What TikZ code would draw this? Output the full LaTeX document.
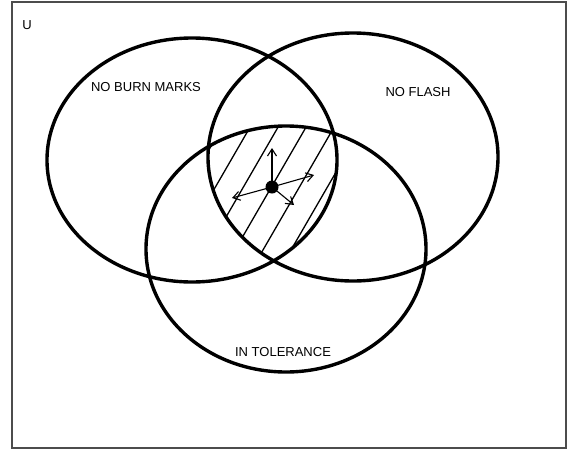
\documentclass[tikz,border=0pt]{standalone}
\usepackage{fontspec}
\setmainfont{Liberation Sans}
\usepackage{tikz}
\usetikzlibrary{arrows.meta,positioning}
\tikzset{
  setline/.style={line width=3.4pt,black},
  lbl/.style={font=\fontsize{13}{15}\selectfont,inner sep=0pt},
  hatch/.style={line width=1.3pt,black},
  arr/.style={-{Straight Barb[length=7pt,width=9pt]},line width=1.1pt},
}
\begin{document}
\begin{tikzpicture}[x=1pt,y=-1pt]
  \useasboundingbox (0,0) rectangle (569,450);
  \draw[black!70,line width=1.2pt] (12,2) rectangle (566,448);
  \node[lbl] (u) at (27,25) {U};
  % hatched common region
  \begin{scope}
    \clip (192,160) ellipse [x radius=145,y radius=122];
    \clip (353,157) ellipse [x radius=145,y radius=124];
    \clip (286,249) ellipse [x radius=140,y radius=123];
    \foreach \k in {-5,...,5}
      \draw[hatch] (272+28*\k-70,186+121) -- (272+28*\k+70,186-121);
  \end{scope}
  % the three sets
  \draw[setline] (192,160) ellipse [x radius=145,y radius=122];
  \draw[setline] (353,157) ellipse [x radius=145,y radius=124];
  \draw[setline] (286,249) ellipse [x radius=140,y radius=123];
  \node[lbl] (burn) at (146,87) {NO BURN MARKS};
  \node[lbl] (flash) at (418,92) {NO FLASH};
  \node[lbl] (tol) at (283,352) {IN TOLERANCE};
  % point with its moves
  \node[circle,fill=black,inner sep=0pt,minimum size=13pt] (pt) at (272,187) {};
  \coordinate (up) at (272,148);
  \coordinate (lf) at (232,198);
  \coordinate (rt) at (314,175);
  \coordinate (dr) at (294,205);
  \foreach \t in {up,lf,rt,dr}
    \draw[arr] (pt.center) -- (\t);
\end{tikzpicture}
\end{document}
